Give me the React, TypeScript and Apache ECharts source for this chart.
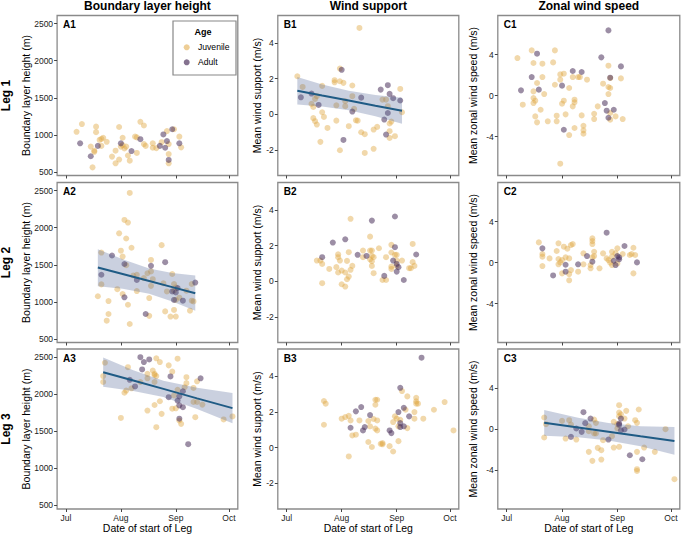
import React, { useEffect, useRef } from "react";
import * as echarts from "echarts";

// x values: days since 1 July (date of start of leg)
const monthTicks = [0, 31, 62, 92];
const monthLabels = ["Jul", "Aug", "Sep", "Oct"];
const blhTicks = [500, 1000, 1500, 2000, 2500];
const windTicks = [-2, 0, 2, 4];
const zonalTicks = [-4, 0, 4];
const columnTitles = ["Boundary layer height", "Wind support", "Zonal wind speed"];
const rowTitles = ["Leg 1", "Leg 2", "Leg 3"];
const yTitles = ["Boundary layer height (m)", "Mean wind support (m/s)", "Mean zonal wind speed (m/s)"];
const xTitle = "Date of start of Leg";
const ageTitle = "Age";
const ageGroups = ["Juvenile", "Adult"];

// ---- Leg 1 ----
const a1Juv = [[6,1040],[9,1145],[14,840],[17,1110],[17,1035],[16,785],[16,770],[15,560],[19,930],[20,945],[21,960],[23,905],[20,850],[26,705],[28,615],[28,785],[30,1105],[30,665],[31,840],[32,960],[33,815],[32,860],[34,840],[35,720],[36,650],[40,755],[39,975],[40,965],[42,1175],[44,1125],[44,875],[45,850],[49,885],[49,825],[51,820],[54,900],[57,1050],[58,875],[58,740],[58,615],[61,1075],[64,975],[65,830]];
const a1Adu = [[8,885],[14,710],[18,850],[31,885],[37,780],[42,940],[53,850],[55,1005],[56,825],[57,915],[58,660],[60,1075],[64,885]];
const b1Juv = [[6,2.13],[9,1.53],[17,1.01],[16,0.86],[14,0.58],[15,0.41],[15,-0.22],[16,-0.39],[17,-0.58],[20,1.59],[20,0.11],[21,-0.15],[19,-1.55],[23,-0.77],[27,1.91],[27,1.79],[28,0.5],[30,2.56],[30,1.85],[32,1.76],[33,0.73],[33,0.45],[28,-0.36],[30,-2.02],[35,-0.67],[37,1.61],[37,1.01],[38,0.3],[39,-0.34],[40,-0.36],[41,4.84],[42,-1.01],[44,-1.12],[44,-2.17],[49,-0.86],[51,-0.71],[49,-1.94],[54,0.82],[56,0.82],[57,0.45],[58,-0.52],[59,-0.41],[58,-0.95],[58,-1.33],[61,-1.23],[64,1.42],[65,0.11]];
const b1Adu = [[8,0.95],[14,1.16],[18,0.52],[31,2.49],[32,-1.44],[37,0.15],[42,0.93],[53,1.38],[57,1.63],[55,-0.3],[56,-1.14],[58,1.14],[60,0.9],[64,0.77],[57,0.07]];
const c1Juv = [[6,3.67],[14,4.42],[15,3.19],[20,3.12],[27,4.42],[26,3.25],[17,1.24],[20,1.82],[9,-0.88],[15,0.42],[15,-0.23],[16,-0.49],[15,-0.72],[21,0.16],[19,-1.37],[16,-2.02],[17,-2.6],[23,-2.5],[28,-1.95],[28,-2.5],[27,1.07],[30,2.08],[32,2.15],[30,1.56],[35,0.75],[32,-0.49],[31,-0.78],[33,-1.82],[35,-3.84],[30,-6.63],[37,1.82],[40,1.82],[41,1.82],[45,1.56],[38,-0.39],[38,-0.65],[37,-1.04],[42,-1.92],[38,-3.15],[43,-2.93],[43,-3.38],[43,-3.71],[49,-1.76],[49,-2.28],[51,-1.04],[54,1.17],[57,2.93],[58,1.72],[57,0.85],[58,0.75],[57,0.16],[58,-1.69],[58,-2.34],[61,-2.02],[65,-2.28],[64,1.69]];
const c1Adu = [[17,4.1],[14,1.82],[8,0.52],[18,0.59],[31,0.98],[32,-3.32],[37,2.41],[42,2.31],[53,3.74],[57,6.37],[58,1.76],[55,-0.72],[56,-1.46],[60,-1.37],[57,-2.15],[64,2.86]];

// ---- Leg 2 ----
const a2Juv = [[18,1075],[20,1665],[20,1235],[24,1010],[23,745],[24,835],[29,1170],[30,1925],[31,1690],[32,1610],[32,1105],[33,2105],[35,2070],[34,1855],[34,1495],[36,2470],[37,1730],[35,960],[36,700],[40,1145],[38,1355],[40,1365],[44,1320],[46,1385],[48,1565],[48,1410],[49,1305],[48,1215],[47,1050],[47,810],[54,1765],[55,1250],[57,1140],[56,870],[59,800],[62,800],[61,890],[60,1375],[61,1240],[62,1195],[61,1150],[62,1025],[64,1055],[68,1150],[71,1240],[71,1015],[72,1005],[70,880]];
const a2Adu = [[20,1365],[26,1625],[33,1510],[33,1060],[40,1295],[48,1485],[45,835],[56,1535],[62,1125],[60,1140],[63,1185],[61,1025],[66,1015],[73,1260]];
const b2Juv = [[17,1.16],[19,1.16],[20,0.97],[20,-0.11],[24,0.69],[29,1.51],[29,1.35],[30,1.16],[28,0.79],[29,0.49],[31,0.6],[35,1.63],[34,1.14],[33,0.49],[36,0.64],[37,0.86],[35,0.26],[34,0.11],[31,-0.17],[33,-0.3],[36,3.5],[43,1.35],[43,1.72],[47,2.5],[47,1.72],[48,1.72],[48,1.42],[48,1.12],[48,0.86],[47,1.23],[49,1.35],[49,0.45],[52,1.85],[54,0.07],[56,1.35],[56,0.07],[59,2.04],[59,1.61],[61,1.48],[62,1.48],[62,1.16],[62,0.86],[59,0.82],[65,1.16],[69,0.73],[70,0.73],[71,2.09],[71,1.07],[72,0.86],[59,0.69]];
const b2Adu = [[20,1.35],[26,2.17],[33,2.35],[40,1.48],[45,1.42],[48,3.4],[55,0.3],[61,1.91],[61,3.63],[60,1.16],[62,0.97],[62,0.54],[63,0.79],[66,0.07],[73,1.5]];
const c2Juv = [[18,1.98],[20,0.85],[20,0.59],[20,-0.33],[24,0.42],[28,1.14],[29,1.89],[29,0.36],[30,0.03],[29,-0.16],[31,0.26],[31,-1.04],[32,1.56],[33,0.52],[35,0.42],[34,1.37],[35,-1.11],[35,-1.72],[36,-0.72],[36,1.72],[37,1.82],[40,-0.88],[43,0.91],[43,-0.16],[47,-0.55],[47,-0.23],[48,2.37],[48,2.11],[48,1.82],[49,1.07],[48,0.52],[49,0.65],[52,-0.55],[54,0.91],[56,0.42],[57,0.26],[58,0],[59,-0.23],[59,1.07],[59,0.59],[61,0.91],[62,1.4],[62,-0.07],[65,0.85],[69,0.75],[70,0.85],[71,1.46],[72,0.75],[71,-1.04]];
const c2Adu = [[20,1.4],[26,-1.24],[33,-0.2],[33,-0.88],[40,-0.16],[45,0.65],[48,0.1],[56,2.93],[60,0.19],[61,-0.23],[62,0.65],[63,0.52],[63,0.33],[66,1.63],[73,0.03]];

// ---- Leg 3 ----
const a3Juv = [[21,2245],[21,2165],[22,2425],[31,1680],[33,2020],[35,2365],[34,2050],[37,2080],[46,1780],[46,2215],[42,2165],[46,2275],[49,2320],[50,2275],[51,2485],[53,2435],[50,2260],[51,2245],[50,2165],[50,1855],[51,1555],[53,1905],[54,1735],[58,2390],[60,2305],[61,1985],[60,1805],[62,1810],[63,2480],[63,2060],[64,1645],[65,1600],[68,2230],[68,2150],[67,2095],[72,1895],[73,1690],[74,1895],[74,2175],[72,2085],[77,1860],[89,1660],[94,1700]];
const a3Adu = [[36,2195],[39,2105],[42,2500],[44,2435],[47,2470],[43,2335],[59,2240],[58,1960],[63,1915],[64,1970],[64,1850],[66,1825],[66,2040],[64,1670],[69,1325],[76,2215]];
const b3Juv = [[21,2.62],[22,2.47],[21,1.29],[31,1.63],[33,1.72],[35,1.79],[36,1.53],[37,0.69],[39,0.73],[35,-0.49],[41,1.53],[46,1.5],[47,1.2],[46,0.32],[48,0.04],[49,1.61],[51,1.53],[50,1.07],[51,0.97],[50,2.69],[51,2.69],[50,2.41],[53,0.22],[54,0.19],[54,0.26],[58,0.09],[60,-0.21],[60,1.44],[61,1.76],[65,3.18],[62,1.63],[64,1.57],[63,1.2],[67,2.13],[68,2.88],[68,1.1],[63,0.37],[72,2.0],[73,2.8],[73,2.47],[73,2.6],[74,2.47],[72,1.63],[77,1.63],[83,2.13],[89,2.56],[94,0.97]];
const b3Adu = [[36,1.12],[39,2.04],[42,2.28],[43,0.97],[44,1.16],[47,1.83],[58,0.97],[59,0.82],[63,2.0],[64,3.36],[64,1.38],[64,1.16],[66,1.2],[66,2.24],[69,1.76],[76,5.05]];
const c3Juv = [[21,1.14],[21,-0.81],[22,0.49],[31,0.81],[33,-0.91],[35,0.88],[36,0.46],[39,-1.01],[46,0.29],[46,-0.2],[49,0.94],[50,0.62],[50,-0.42],[49,-0.42],[46,-2.21],[48,-3.09],[51,-1.82],[53,-2.05],[53,-2.96],[54,-1.07],[59,-0.68],[60,0.72],[60,-1.79],[62,0.49],[62,0.07],[63,2.34],[63,1.63],[63,1.27],[64,1.46],[63,-1.72],[66,1.04],[67,1.79],[68,0.29],[72,0.88],[73,0.62],[74,1.92],[73,-2.21],[73,-3.9],[73,-4.07],[77,-1.79],[83,-2.21],[89,0],[94,-4.88]];
const c3Adu = [[36,-0.75],[39,0.07],[42,-0.26],[43,1.66],[44,0.59],[47,1.04],[57,-1.01],[64,-0.1],[63,0.42],[63,0.55],[64,1.04],[66,-0.03],[69,-2.54],[76,-2.93]];

// ---- fitted trends with confidence bands ----
const a2FitX = [18, 32, 47, 60, 73];
const a2Fit = [1462, 1374, 1280, 1198, 1116];
const a2Lo = [1210, 1175, 1110, 1005, 880];
const a2Hi = [1710, 1575, 1450, 1390, 1355];
const a3FitX = [21, 38, 55, 74, 94];
const a3Fit = [2298, 2185, 2072, 1944, 1812];
const a3Lo = [2100, 2045, 1962, 1799, 1607];
const a3Hi = [2496, 2325, 2182, 2089, 2017];
const b1FitX = [6, 20, 35, 50, 65];
const b1Fit = [1.32, 1.05, 0.77, 0.48, 0.2];
const b1Lo = [0.55, 0.43, 0.22, -0.12, -0.53];
const b1Hi = [2.09, 1.67, 1.32, 1.08, 0.93];
const c3FitX = [21, 40, 57, 75, 94];
const c3Fit = [0.62, 0.16, -0.25, -0.69, -1.14];
const c3Lo = [-0.63, -0.79, -1.1, -1.67, -2.49];
const c3Hi = [1.87, 1.11, 0.6, 0.29, 0.21];

const panelData = [
  [
    { tag: "A1", juv: a1Juv, adu: a1Adu, fit: null },
    { tag: "B1", juv: b1Juv, adu: b1Adu, fit: { x: b1FitX, y: b1Fit, lo: b1Lo, hi: b1Hi } },
    { tag: "C1", juv: c1Juv, adu: c1Adu, fit: null },
  ],
  [
    { tag: "A2", juv: a2Juv, adu: a2Adu, fit: { x: a2FitX, y: a2Fit, lo: a2Lo, hi: a2Hi } },
    { tag: "B2", juv: b2Juv, adu: b2Adu, fit: null },
    { tag: "C2", juv: c2Juv, adu: c2Adu, fit: null },
  ],
  [
    { tag: "A3", juv: a3Juv, adu: a3Adu, fit: { x: a3FitX, y: a3Fit, lo: a3Lo, hi: a3Hi } },
    { tag: "B3", juv: b3Juv, adu: b3Adu, fit: null },
    { tag: "C3", juv: c3Juv, adu: c3Adu, fit: { x: c3FitX, y: c3Fit, lo: c3Lo, hi: c3Hi } },
  ],
];

// layout / style
const FONT = "Liberation Sans, Arial, sans-serif";
const colLeft = [57.1, 277.8, 497.8];
const colWidth = [180.7, 181, 182];
const rowTop = [15.5, 182.5, 349];
const rowHeight = 160;
const yScales = [
  { min: 450, max: 2611, ticks: blhTicks },
  { min: -3.436, max: 5.537, ticks: windTicks },
  { min: -7.785, max: 7.824, ticks: zonalTicks },
];
const yTitleX = [26, 256.5, 472.5];
const JUV = "rgba(224,166,64,0.55)";
const ADU = "rgba(74,47,90,0.68)";
const FRAME = "#8a8a8a";
const LINE = "#1f5b85";
const BAND = "rgba(80,100,150,0.3)";

function buildOption() {
  const grid: any[] = [];
  const xAxis: any[] = [];
  const yAxis: any[] = [];
  const series: any[] = [];
  const graphic: any[] = [];
  let gi = 0;
  for (let r = 0; r < 3; r++) {
    for (let c = 0; c < 3; c++) {
      const p = panelData[r][c];
      grid.push({
        left: colLeft[c],
        top: rowTop[r],
        width: colWidth[c],
        height: rowHeight,
        show: true,
        borderColor: FRAME,
        borderWidth: 1.3,
        backgroundColor: "transparent",
      });
      xAxis.push({
        gridIndex: gi,
        type: "value",
        position: "bottom",
        min: -5,
        max: 97,
        axisLine: { show: false, onZero: false },
        splitLine: { show: false },
        axisTick: { show: true, length: 3, lineStyle: { color: "#444" }, customValues: monthTicks },
        axisLabel: {
          show: r === 2,
          customValues: monthTicks,
          formatter: (v: number) => {
            const i = monthTicks.indexOf(Math.round(v));
            return i >= 0 ? monthLabels[i] : "";
          },
          fontSize: 8.5,
          color: "#222",
          fontFamily: FONT,
          margin: 4,
        },
      });
      const ys = yScales[c];
      yAxis.push({
        gridIndex: gi,
        type: "value",
        position: "left",
        min: ys.min,
        max: ys.max,
        axisLine: { show: false, onZero: false },
        splitLine: { show: false },
        axisTick: { show: true, length: 3, lineStyle: { color: "#444" }, customValues: ys.ticks },
        axisLabel: {
          customValues: ys.ticks,
          formatter: (v: number) => String(Math.round(v * 100) / 100),
          fontSize: 8.5,
          color: "#222",
          fontFamily: FONT,
          margin: 4,
        },
      });
      series.push({
        type: "scatter",
        name: ageGroups[0],
        xAxisIndex: gi,
        yAxisIndex: gi,
        data: p.juv,
        symbolSize: 6,
        itemStyle: { color: JUV },
        z: 2,
        silent: true,
      });
      series.push({
        type: "scatter",
        name: ageGroups[1],
        xAxisIndex: gi,
        yAxisIndex: gi,
        data: p.adu,
        symbolSize: 6,
        itemStyle: { color: ADU },
        z: 2,
        silent: true,
      });
      if (p.fit) {
        const f = p.fit;
        series.push({
          type: "custom",
          xAxisIndex: gi,
          yAxisIndex: gi,
          data: [[f.x[0], f.y[0]]],
          z: 3,
          silent: true,
          renderItem: (params: any, api: any) => {
            const pts: number[][] = [];
            for (let i = 0; i < f.x.length; i++) pts.push(api.coord([f.x[i], f.hi[i]]));
            for (let i = f.x.length - 1; i >= 0; i--) pts.push(api.coord([f.x[i], f.lo[i]]));
            return { type: "polygon", shape: { points: pts }, style: { fill: BAND } };
          },
        });
        series.push({
          type: "line",
          xAxisIndex: gi,
          yAxisIndex: gi,
          data: f.x.map((x: number, i: number) => [x, f.y[i]]),
          showSymbol: false,
          symbol: "none",
          lineStyle: { color: LINE, width: 2 },
          z: 4,
          silent: true,
        });
      }
      graphic.push({
        type: "text",
        left: colLeft[c] + 6,
        top: rowTop[r] + 4,
        style: { text: p.tag, font: `bold 10px ${FONT}`, fill: "#000" },
      });
      gi++;
    }
  }
  // column titles and x titles
  for (let c = 0; c < 3; c++) {
    graphic.push({
      type: "text",
      x: colLeft[c] + colWidth[c] / 2,
      y: 5.5,
      style: { text: columnTitles[c], font: `bold 12px ${FONT}`, fill: "#000", align: "center", verticalAlign: "middle" },
    });
    graphic.push({
      type: "text",
      x: colLeft[c] + colWidth[c] / 2,
      y: 528,
      style: { text: xTitle, font: `10.5px ${FONT}`, fill: "#000", align: "center", verticalAlign: "middle" },
    });
  }
  // row titles and y-axis titles
  for (let r = 0; r < 3; r++) {
    const cy = rowTop[r] + rowHeight / 2;
    graphic.push({
      type: "text",
      x: 5.5,
      y: cy,
      rotation: Math.PI / 2,
      style: { text: rowTitles[r], font: `bold 12px ${FONT}`, fill: "#000", align: "center", verticalAlign: "middle" },
    });
    for (let c = 0; c < 3; c++) {
      graphic.push({
        type: "text",
        x: yTitleX[c],
        y: cy,
        rotation: Math.PI / 2,
        style: { text: yTitles[c], font: `10.5px ${FONT}`, fill: "#000", align: "center", verticalAlign: "middle" },
      });
    }
  }
  // legend (Age)
  graphic.push({
    type: "rect",
    shape: { x: 173, y: 21, width: 63, height: 54 },
    style: { fill: "#fff", stroke: "#888", lineWidth: 1.2 },
    z: 10,
  });
  graphic.push({
    type: "text",
    x: 203,
    y: 32,
    style: { text: ageTitle, font: `bold 9px ${FONT}`, fill: "#000", align: "center", verticalAlign: "middle" },
    z: 11,
  });
  const legendColors = [JUV, ADU];
  for (let i = 0; i < 2; i++) {
    graphic.push({
      type: "circle",
      shape: { cx: 186.7, cy: 47.3 + i * 15, r: 3 },
      style: { fill: legendColors[i] },
      z: 11,
    });
    graphic.push({
      type: "text",
      x: 198,
      y: 47.3 + i * 15,
      style: { text: ageGroups[i], font: `8.6px ${FONT}`, fill: "#000", align: "left", verticalAlign: "middle" },
      z: 11,
    });
  }
  return {
    animation: false,
    backgroundColor: "#fff",
    grid,
    xAxis,
    yAxis,
    series,
    graphic,
  };
}

export default function App() {
  const ref = useRef<HTMLDivElement>(null);
  useEffect(() => {
    if (!ref.current) return;
    const chart = echarts.init(ref.current, undefined, { renderer: "svg" });
    chart.setOption(buildOption() as any);
    return () => chart.dispose();
  }, []);
  return (
    <div
      ref={ref}
      style={{ position: "absolute", left: 0, top: 0, width: 685, height: 534, background: "#fff" }}
    />
  );
}
